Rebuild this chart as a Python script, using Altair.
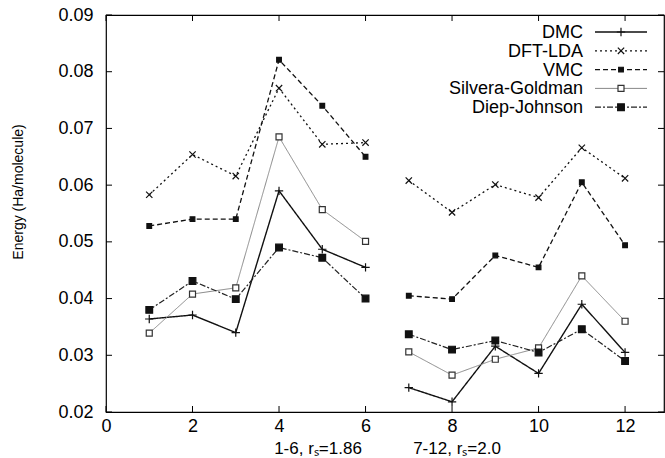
import altair as alt
import pandas as pd

# ---------------- data ----------------
structures = [1, 2, 3, 4, 5, 6, 7, 8, 9, 10, 11, 12]
set_of = ["A"] * 6 + ["B"] * 6
x_ticks = [0, 2, 4, 6, 8, 10, 12]
y_ticks = [0.02, 0.03, 0.04, 0.05, 0.06, 0.07, 0.08, 0.09]
series_names = ["DMC", "DFT-LDA", "VMC", "Silvera-Goldman", "Diep-Johnson"]
group_labels = ["1-6, rₛ=1.86", "7-12, rₛ=2.0"]
y_title = "Energy (Ha/molecule)"

dmc = [0.0364, 0.0371, 0.0340, 0.0590, 0.0487, 0.0455, 0.0243, 0.0218, 0.0316, 0.0268, 0.0390, 0.0305]
dft = [0.0583, 0.0654, 0.0616, 0.0771, 0.0672, 0.0675, 0.0608, 0.0552, 0.0601, 0.0578, 0.0666, 0.0612]
vmc = [0.0528, 0.0540, 0.0540, 0.0821, 0.0740, 0.0650, 0.0405, 0.0399, 0.0476, 0.0455, 0.0605, 0.0494]
sg = [0.0339, 0.0408, 0.0419, 0.0685, 0.0557, 0.0501, 0.0306, 0.0265, 0.0293, 0.0313, 0.0440, 0.0360]
dj = [0.0380, 0.0431, 0.0399, 0.0490, 0.0472, 0.0400, 0.0337, 0.0310, 0.0326, 0.0305, 0.0346, 0.0290]
values = [dmc, dft, vmc, sg, dj]

# ---------------- styles ----------------
FONT = "Liberation Sans"
FS = 18
W, H = 558, 397
XDOM = [0, 12.9]
YDOM = [0.02, 0.09]
PLUS = "M-1,0L1,0M0,-1L0,1"
CROSS = "M-1,-1L1,1M-1,1L1,-1"
styles = {
    "DMC": dict(dash=[1, 0], color="#111", width=1.4, shape=PLUS, size=70, filled=False, fill="none", mstroke="#111"),
    "DFT-LDA": dict(dash=[2, 3], color="#111", width=1.3, shape=CROSS, size=40, filled=False, fill="none", mstroke="#111"),
    "VMC": dict(dash=[5, 3], color="#111", width=1.3, shape="square", size=22, filled=True, fill="#111", mstroke="#111"),
    "Silvera-Goldman": dict(dash=[1, 0], color="#888", width=1.0, shape="square", size=36, filled=False, fill="white", mstroke="#333"),
    "Diep-Johnson": dict(dash=[6, 2, 2, 2], color="#222", width=1.2, shape="square", size=45, filled=True, fill="#111", mstroke="#111"),
}

xs = alt.Scale(domain=XDOM, nice=False, zero=False)
ys = alt.Scale(domain=YDOM, nice=False, zero=False)

layers = []
for name, vals in zip(series_names, values):
    st = styles[name]
    df = pd.DataFrame({"structure": structures, "energy": vals, "set": set_of, "series": name})
    base = alt.Chart(df)
    line = base.mark_line(
        color=st["color"], strokeWidth=st["width"], strokeDash=st["dash"]
    ).encode(
        x=alt.X("structure:Q", scale=xs,
                axis=alt.Axis(values=x_ticks, title=None, grid=False, tickSize=0,
                              labelFont=FONT, labelFontSize=FS, labelColor="#000",
                              labelPadding=5, domain=False, format="d")),
        y=alt.Y("energy:Q", scale=ys,
                axis=alt.Axis(values=y_ticks, title=None, grid=False,
                              tickSize=0, labelFont=FONT, labelFontSize=FS, labelColor="#000",
                              labelPadding=13, domain=False, format=".2f")),
        detail="set:N",
    )
    pts = base.mark_point(
        shape=st["shape"], size=st["size"], filled=st["filled"], fill=st["fill"],
        stroke=st["mstroke"], strokeWidth=1.2, opacity=1,
    ).encode(x=alt.X("structure:Q", scale=xs), y=alt.Y("energy:Q", scale=ys))
    layers += [line, pts]

# inward tick marks on all four sides
xt = pd.DataFrame({"t": x_ticks})
yt = pd.DataFrame({"t": y_ticks})
TL = 6
ticks_bottom = alt.Chart(xt).mark_rule(color="#000", strokeWidth=1).encode(
    x=alt.X("t:Q", scale=xs), y=alt.value(H), y2=alt.value(H - TL))
ticks_top = alt.Chart(xt).mark_rule(color="#000", strokeWidth=1).encode(
    x=alt.X("t:Q", scale=xs), y=alt.value(0), y2=alt.value(TL))
ticks_left = alt.Chart(yt).mark_rule(color="#000", strokeWidth=1).encode(
    y=alt.Y("t:Q", scale=ys), x=alt.value(0), x2=alt.value(TL))
ticks_right = alt.Chart(yt).mark_rule(color="#000", strokeWidth=1).encode(
    y=alt.Y("t:Q", scale=ys), x=alt.value(W), x2=alt.value(W - TL))
layers += [ticks_bottom, ticks_top, ticks_left, ticks_right]

# legend (top right, labels to the left of samples)
LX_TEXT, LX0, LX1 = 477, 489, 541
for i, name in enumerate(series_names):
    st = styles[name]
    ypx = 17 + i * 18.8
    ldf = pd.DataFrame({"series": [name]})
    lb = alt.Chart(ldf)
    layers.append(lb.mark_rule(color=st["color"], strokeWidth=st["width"], strokeDash=st["dash"]).encode(
        x=alt.value(LX0), x2=alt.value(LX1), y=alt.value(ypx)))
    layers.append(lb.mark_point(shape=st["shape"], size=st["size"], filled=st["filled"], fill=st["fill"],
                                stroke=st["mstroke"], strokeWidth=1.2, opacity=1).encode(
        x=alt.value((LX0 + LX1) / 2), y=alt.value(ypx)))
    layers.append(lb.mark_text(align="right", baseline="middle", font=FONT, fontSize=FS, color="#000").encode(
        x=alt.value(LX_TEXT), y=alt.value(ypx + 1), text="series:N"))

# group captions under the x axis
gdf = pd.DataFrame({"label": group_labels, "pos": [212, 351]})
captions = alt.Chart(gdf).mark_text(align="center", baseline="middle", font=FONT, fontSize=17, color="#000").encode(
    x=alt.X("pos:Q", scale=None), y=alt.value(H + 37), text="label:N")
layers.append(captions)

# y-axis title
tdf = pd.DataFrame({"title": [y_title]})
ytitle = alt.Chart(tdf).mark_text(angle=270, align="center", baseline="middle", font=FONT,
                                  fontSize=14, color="#000").encode(
    x=alt.value(-87), y=alt.value(177), text="title:N")
layers.append(ytitle)

chart = alt.layer(*layers).properties(
    width=W, height=H,
    autosize=alt.AutoSizeParams(type="none"),
    padding={"left": 106, "top": 15, "right": 1, "bottom": 46},
    background="white",
).configure_view(stroke="#000", strokeWidth=1.2).configure_axis(labelFlush=False)

chart.save("out.html", embed_options={"renderer": "svg", "actions": False})
